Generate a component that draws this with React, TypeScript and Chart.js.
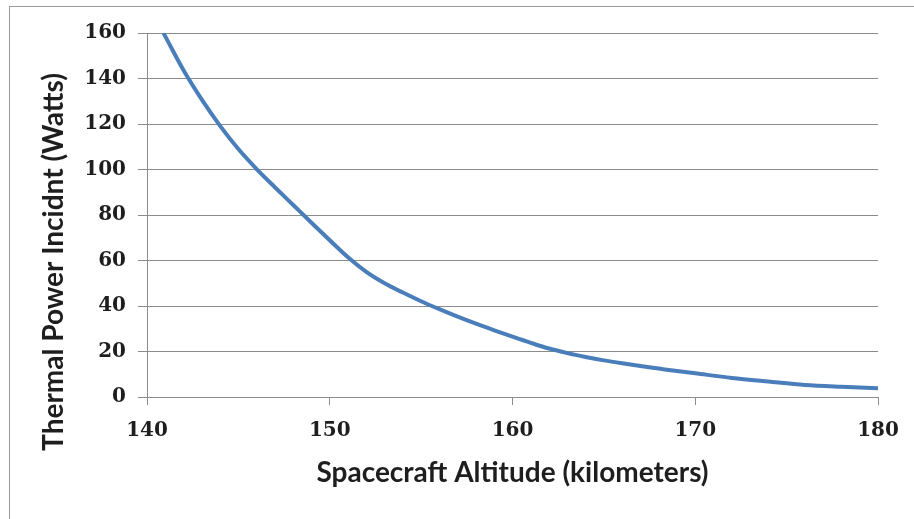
import React, { useEffect, useRef } from "react";
import { Chart, registerables } from "chart.js";

Chart.register(...registerables);

const altitudes: number[] = [
  140.9, 141, 142, 143, 144, 145, 146, 147, 148, 149, 150, 151, 152, 153, 154, 155, 156, 157, 158, 159, 160,
  161, 162, 163, 164, 165, 166, 167, 168, 169, 170, 172, 174, 176, 178, 180,
];
const thermalPower: number[] = [
  160, 158.5, 143.6, 130.7, 119.2, 109.0, 100.2, 92.2, 84.4, 76.6, 68.9, 61.4, 55.0, 50.0, 45.9, 42.1, 38.6, 35.3, 32.2, 29.3, 26.5,
  23.8, 21.3, 19.3, 17.6, 16.1, 14.8, 13.6, 12.5, 11.4, 10.4, 8.4, 6.8, 5.3, 4.5, 3.9,
];
const xTitle = "Spacecraft Altitude (kilometers)";
const yTitle = "Thermal Power Incidnt (Watts)";

const GRID = "#8c8c8c";
const TEXT = "#1e1e1e";
const TITLE_FONT = "bold 28px Lato";

const framePlugin = {
  id: "frame",
  beforeDraw(chart: any) {
    const ctx = chart.ctx;
    ctx.save();
    ctx.fillStyle = "#ffffff";
    ctx.fillRect(0, 0, chart.width, chart.height);
    ctx.strokeStyle = "#9a9a9a";
    ctx.lineWidth = 1;
    ctx.strokeRect(9.5, 6.5, chart.width + 20, chart.height + 20);
    ctx.restore();
  },
  afterDraw(chart: any) {
    const ctx = chart.ctx;
    const area = chart.chartArea;
    ctx.save();
    ctx.fillStyle = TEXT;
    ctx.font = TITLE_FONT;
    ctx.textAlign = "center";
    ctx.textBaseline = "alphabetic";
    ctx.fillText(xTitle, (area.left + area.right) / 2, 482);
    ctx.translate(63, 262);
    ctx.rotate(-Math.PI / 2);
    ctx.fillText(yTitle, 0, 0);
    ctx.restore();
  },
};

export default function App() {
  const ref = useRef<HTMLCanvasElement | null>(null);
  useEffect(() => {
    if (!ref.current) return;
    const points = altitudes.map((x, i) => ({ x, y: thermalPower[i] }));
    const chart = new Chart(ref.current, {
      type: "line",
      data: {
        datasets: [
          {
            data: points,
            borderColor: "#4a7ebb",
            borderWidth: 4,
            pointRadius: 0,
            fill: false,
            cubicInterpolationMode: "monotone",
          },
        ],
      },
      options: {
        animation: false,
        responsive: false,
        devicePixelRatio: 1,
        layout: { padding: { top: 33, right: 36, left: 0, bottom: 0 } },
        plugins: { legend: { display: false }, tooltip: { enabled: false } },
        scales: {
          x: {
            type: "linear",
            min: 140,
            max: 180,
            afterFit: (s: any) => { s.height = 122; },
            ticks: {
              stepSize: 10,
              padding: 14,
              color: TEXT,
              font: { family: "DejaVu Serif", size: 20, weight: "bold" },
            },
            grid: { drawOnChartArea: false, drawTicks: true, tickLength: 8, color: GRID },
            border: { display: true, color: GRID },
          },
          y: {
            min: 0,
            max: 160,
            afterFit: (s: any) => { s.width = 147; },
            ticks: {
              stepSize: 20,
              padding: 12,
              color: TEXT,
              font: { family: "DejaVu Serif", size: 20, weight: "bold" },
            },
            grid: { drawTicks: true, tickLength: 9, color: GRID },
            border: { display: true, color: GRID },
          },
        },
      },
      plugins: [framePlugin],
    } as any);
    return () => chart.destroy();
  }, []);
  return (
    <div style={{ position: "absolute", left: 0, top: 0, width: 914, height: 519 }}>
      <canvas ref={ref} width={914} height={519} style={{ width: 914, height: 519, display: "block" }} />
    </div>
  );
}
